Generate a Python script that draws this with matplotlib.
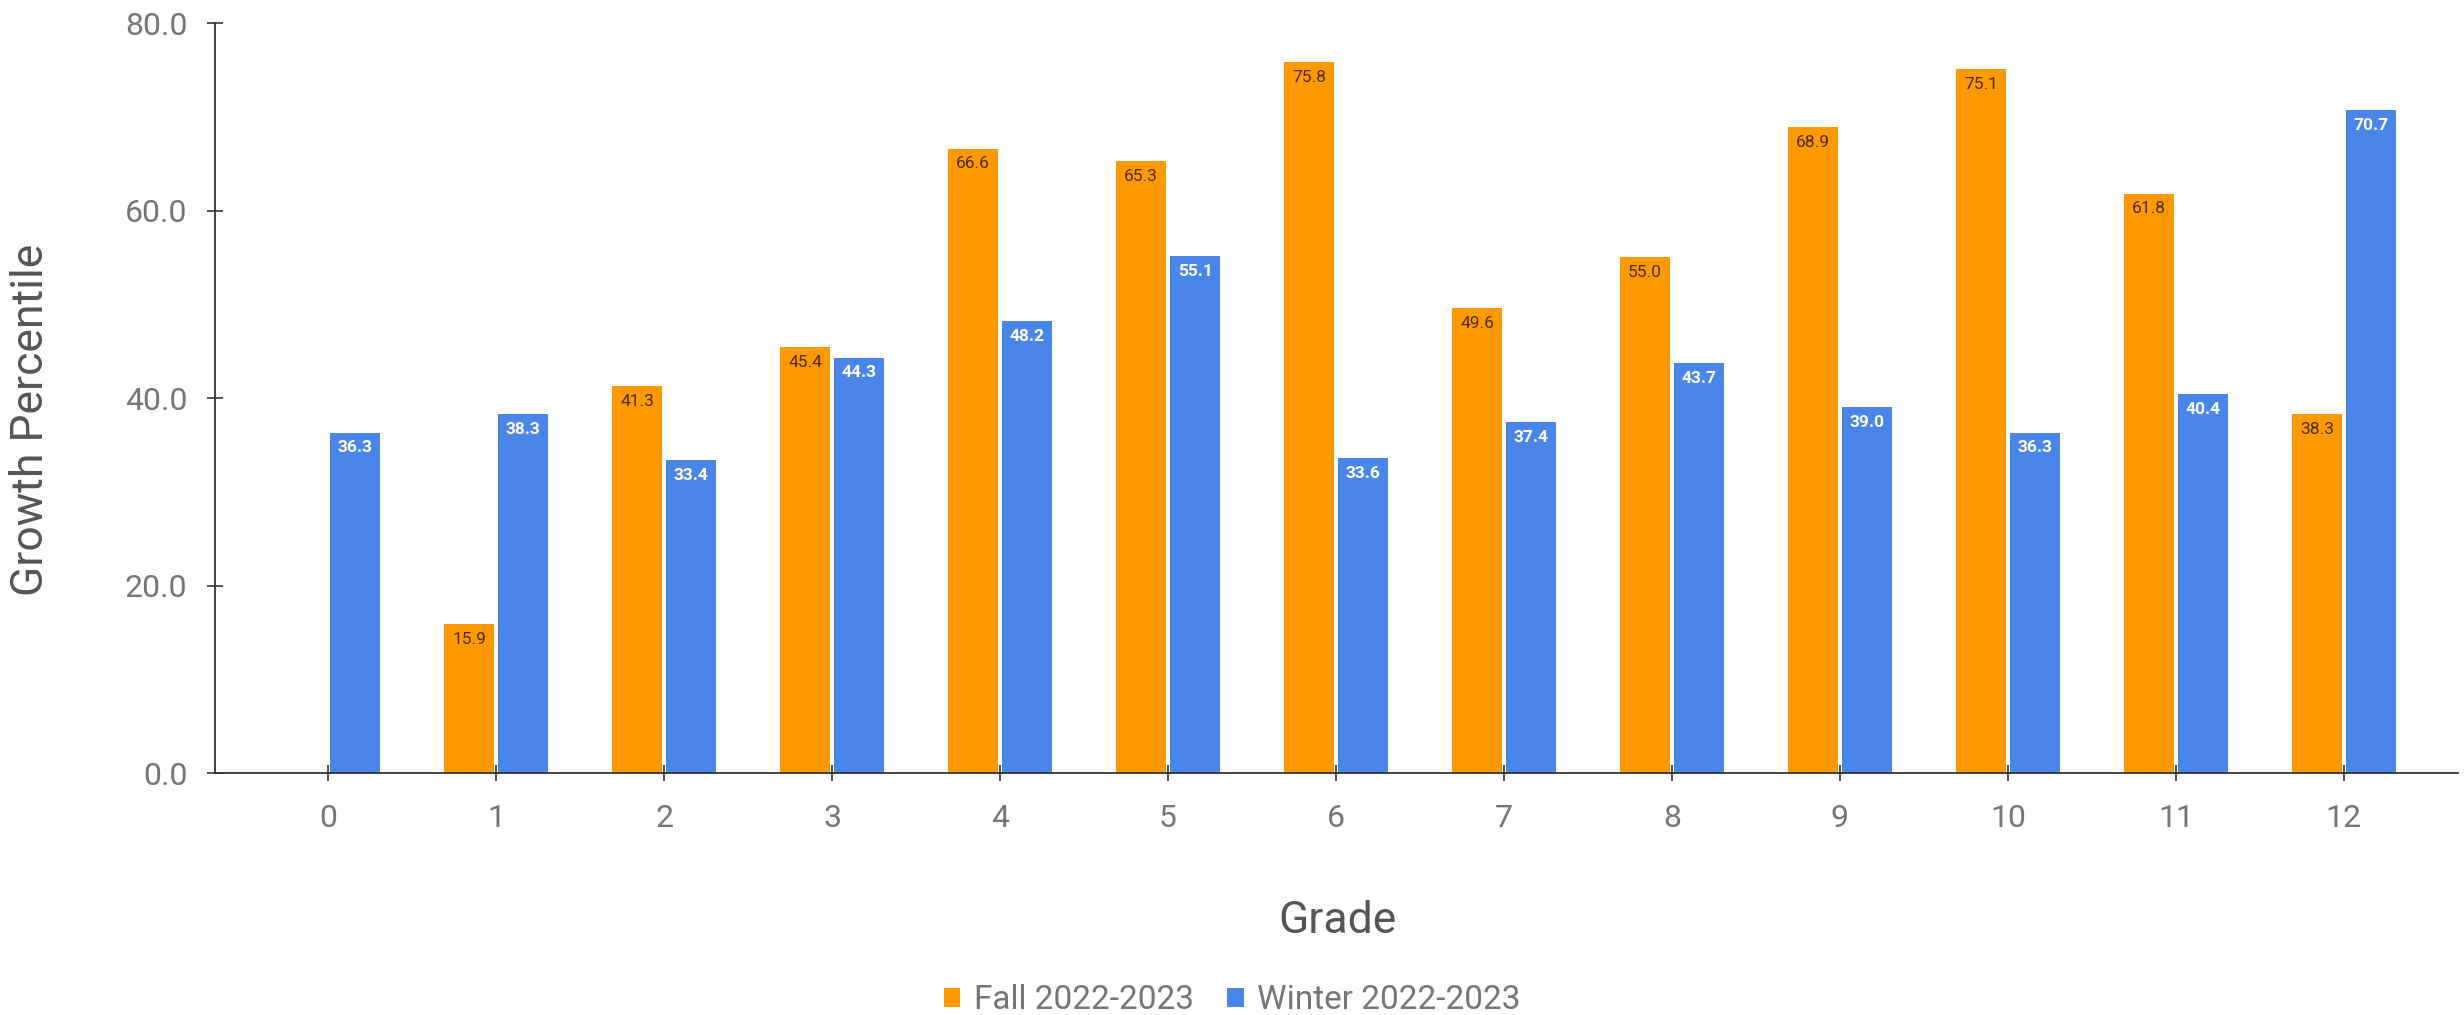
import numpy as np
import matplotlib
matplotlib.use("Agg")
import matplotlib.pyplot as plt

plt.rcParams['font.family'] = ['Roboto', 'DejaVu Sans']

grades = ['0', '1', '2', '3', '4', '5', '6', '7', '8', '9', '10', '11', '12']
fall = [np.nan, 15.9, 41.3, 45.4, 66.6, 65.3, 75.8, 49.6, 55.0, 68.9, 75.1, 61.8, 38.3]
winter = [36.3, 38.3, 33.4, 44.3, 48.2, 55.1, 33.6, 37.4, 43.7, 39.0, 36.3, 40.4, 70.7]

orange = '#ff9900'
blue = '#4a86e8'
gray = '#757575'

fig = plt.figure(figsize=(24.64, 10.15), dpi=100)
ax = fig.add_axes([0.0873, 0.2384, 0.9103, 0.7389])

x = np.arange(len(grades))
w = 0.298
off = 0.161

b1 = ax.bar(x - off, fall, w, color=orange, label='Fall 2022-2023')
b2 = ax.bar(x + off, winter, w, color=blue, label='Winter 2022-2023')

for rect, v in zip(b1, fall):
    if np.isnan(v):
        continue
    ax.annotate('%.1f' % v, (rect.get_x() + rect.get_width() / 2, v),
                xytext=(0, -11), textcoords='offset points',
                ha='center', va='center', fontsize=12.5, color='#4a2c00')
for rect, v in zip(b2, winter):
    ax.annotate('%.1f' % v, (rect.get_x() + rect.get_width() / 2, v),
                xytext=(0, -11), textcoords='offset points',
                ha='center', va='center', fontsize=12.5, color='white',
                fontweight='bold')

ax.set_xlim(-0.673, 12.68)
ax.set_ylim(0, 80)
ax.set_xticks(x)
ax.set_xticklabels(grades)
ax.set_yticks([0, 20, 40, 60, 80])
ax.set_yticklabels(['%.1f' % t for t in [0, 20, 40, 60, 80]])

for s in ['top', 'right']:
    ax.spines[s].set_visible(False)
ax.spines['left'].set_color('#333333')
ax.spines['bottom'].set_color('#333333')
ax.spines['left'].set_linewidth(1.3)
ax.spines['bottom'].set_linewidth(1.3)

ax.tick_params(axis='y', direction='inout', length=12, width=1.2, color='#333333',
               labelsize=23, labelcolor=gray, pad=14)
ax.tick_params(axis='x', direction='inout', length=12, width=1.2, color='#333333',
               labelsize=23, labelcolor=gray, pad=16)

fig.text(0.0126, 0.586, 'Growth Percentile', rotation=90, ha='center', va='center',
         fontsize=32, color='#555555')
fig.text(0.5427, 0.0926, 'Grade', ha='center', va='center', fontsize=32, color='#555555')

leg = fig.legend(handles=[b1, b2], loc='center', bbox_to_anchor=(0.5, 0.0148),
                 ncol=2, frameon=False, fontsize=24, handlelength=0.5, handleheight=0.5,
                 handletextpad=0.4, columnspacing=1.0)
for t in leg.get_texts():
    t.set_color(gray)

fig.savefig('out.png', dpi=100)
